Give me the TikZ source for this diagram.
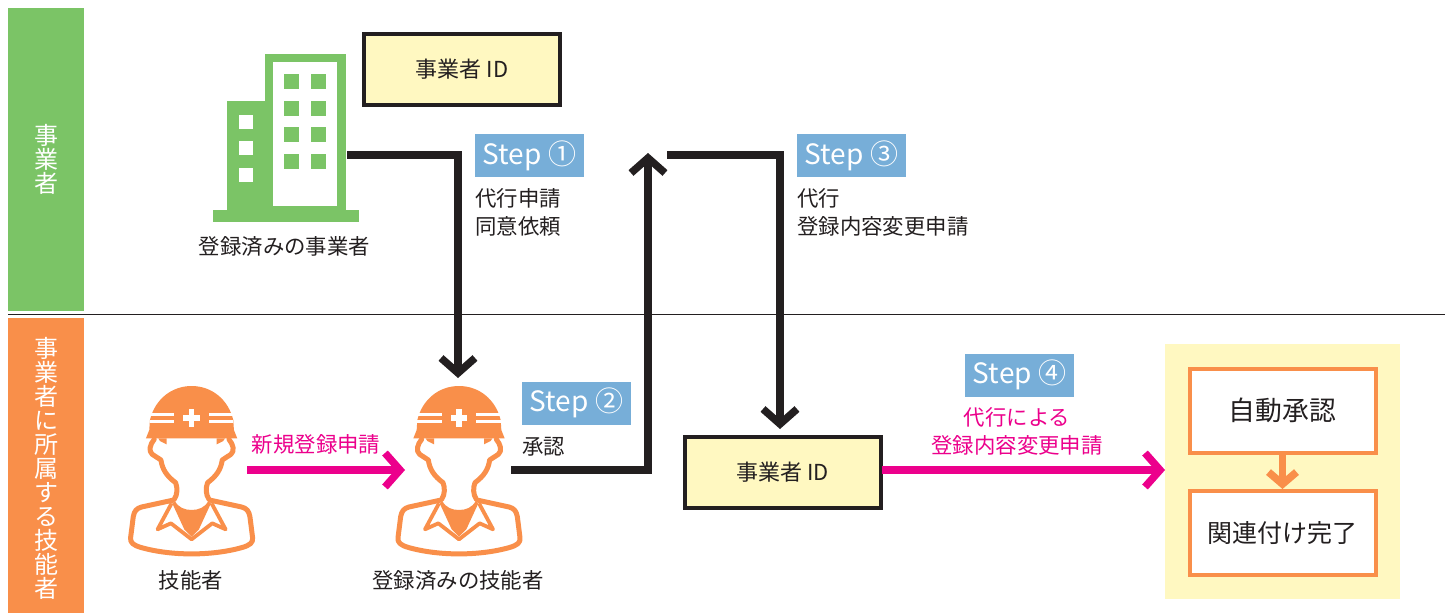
\documentclass[tikz,border=0pt]{standalone}
\usepackage{fontspec}
\setmainfont{Noto Sans CJK JP}
\usetikzlibrary{arrows.meta}
\definecolor{ink}{HTML}{231F20}
\definecolor{grn}{HTML}{7BC466}
\definecolor{org}{HTML}{F98F4A}
\definecolor{mag}{HTML}{EC008C}
\definecolor{blu}{HTML}{77AED8}
\definecolor{yel}{HTML}{FFF8C1}
\tikzset{
  x=1pt,y=-1pt,
  txt/.style={inner sep=0pt,text=ink,font=\fontsize{21.4}{28}\selectfont,align=left},
  ctxt/.style={txt,align=center},
  magtxt/.style={ctxt,text=mag},
  band/.style={inner sep=0pt,text=white,align=center,font=\fontsize{24}{24}\selectfont,minimum width=76pt},
  idbox/.style={draw=ink,line width=4pt,fill=yel,minimum width=196pt,minimum height=71pt,inner sep=0pt,text=ink,font=\fontsize{22}{24}\selectfont},
  stepbox/.style={fill=blu,text=white,minimum width=109pt,minimum height=43pt,inner sep=0pt,font=\fontsize{28}{30}\selectfont},
  resbox/.style={draw=org,line width=4pt,fill=white,minimum width=186pt,minimum height=84pt,inner sep=0pt,text=ink,font=\fontsize{26.8}{30}\selectfont},
  conn/.style={line width=7.5pt,draw=ink,miter limit=10},
  barb/.style={-{Straight Barb[length=15pt,width=34pt,line width=7.5pt]}},
  person/.pic={
    \begin{scope}[x=0.3333pt,y=-0.3333pt]
      % helmet
      \fill[org] (-137,157) -- (-127,132) -- (-125,102)
        .. controls (-110,40) and (-60,0) .. (0,0)
        .. controls (60,0) and (110,40) .. (125,102)
        -- (127,132) -- (137,157) -- cycle;
      \fill[white] (-125,82) rectangle (-52,90);
      \fill[white] (-125,103) rectangle (-52,111);
      \fill[white] (52,82) rectangle (125,90);
      \fill[white] (52,103) rectangle (125,111);
      \fill[white] (-8,70) rectangle (8,122);
      \fill[white] (-25,88) rectangle (25,104);
      % head and neck
      \draw[org,line width=5pt,line join=round,line cap=round]
        (-112,160) .. controls (-125,175) and (-130,195) .. (-118,205)
        .. controls (-110,212) and (-100,215) .. (-92,222)
        .. controls (-88,250) and (-75,270) .. (-48,290)
        .. controls (-42,305) and (-42,325) .. (-52,340);
      \draw[org,line width=5pt,line join=round,line cap=round]
        (112,160) .. controls (125,175) and (130,195) .. (118,205)
        .. controls (110,212) and (100,215) .. (92,222)
        .. controls (88,250) and (75,270) .. (48,290)
        .. controls (42,305) and (42,325) .. (52,340);
      \fill[org] (-75,157) -- (-75,175) -- (-95,165) -- (-100,157) -- cycle;
      \fill[org] (75,157) -- (75,175) -- (95,165) -- (100,157) -- cycle;
      % shoulders
      \draw[org,line width=5pt,line join=round,line cap=round]
        (-58,343) -- (-150,363)
        .. controls (-165,367) and (-172,375) .. (-175,392)
        -- (-183,455)
        .. controls (-185,470) and (-175,478) .. (-150,485)
        .. controls (-60,510) and (60,510) .. (150,485)
        .. controls (175,478) and (185,470) .. (183,455)
        -- (175,392)
        .. controls (172,375) and (165,367) .. (150,363)
        -- (58,343);
      % collar
      \draw[org,line width=3.8pt,line join=round]
        (-60,352) -- (-102,430) -- (-62,412) -- (0,460)
        -- (62,412) -- (102,430) -- (60,352);
      \fill[org] (-50,345) .. controls (-40,365) and (-20,372) .. (0,372)
        .. controls (20,372) and (40,365) .. (50,345)
        -- (58,352) -- (22,430) -- (0,452) -- (-22,430) -- (-58,352) -- cycle;
    \end{scope}
  }
}
\begin{document}
\begin{tikzpicture}
\useasboundingbox (0,0) rectangle (1451,613);
\fill[white] (0,0) rectangle (1451,613);
% side bands
\fill[grn] (8,8) rectangle (84,311);
\fill[org] (8,318) rectangle (84,613);
\draw[ink,line width=0.7pt] (8,314) -- (1445,314);
\node[band] (bandA) at (46,159) {事\\業\\者};
\node[band] (bandB) at (46,468) {事\\業\\者\\に\\所\\属\\す\\る\\技\\能\\者};
% building
\fill[grn] (213,210) rectangle (359,222);
\fill[grn] (227,101) rectangle (265,212);
\fill[grn] (265,54) rectangle (346,212);
\fill[white] (273,62) rectangle (337,206);
\foreach \yy in {74,101,127,154}{
  \fill[grn] (284,\yy) rectangle +(15,15);
  \fill[grn] (311,\yy) rectangle +(15,15);
}
\foreach \yy in {115,141,168}
  \fill[white] (239,\yy) rectangle +(14,13.5);
\node[ctxt] (lblOp) at (284.5,246) {登録済みの事業者};
% id boxes
\node[idbox] (idA) at (462,69.5) {事業者 ID};
\node[idbox] (idB) at (782.5,472) {事業者 ID};
% step labels
\node[stepbox] (s1) at (529.5,155.5) {\raisebox{-3pt}{Step ①}};
\node[stepbox] (s2) at (576.5,403) {\raisebox{-3pt}{Step ②}};
\node[stepbox] (s3) at (851.5,155.5) {\raisebox{-3pt}{Step ③}};
\node[stepbox] (s4) at (1019.5,375) {\raisebox{-3pt}{Step ④}};
\node[txt,anchor=north west] (t1) at (475,188) {代行申請\\同意依頼};
\node[txt,anchor=west] (t2) at (522,447) {承認};
\node[txt,anchor=north west] (t3) at (797,188) {代行\\登録内容変更申請};
\node[magtxt] (t4) at (1017,431) {代行による\\登録内容変更申請};
\node[magtxt] (t5) at (316,444) {新規登録申請};
% people
\pic at (191.6,386) {person};
\pic at (459,386) {person};
\node[ctxt] (lblA) at (191,580) {技能者};
\node[ctxt] (lblB) at (458,580) {登録済みの技能者};
\coordinate (pAr) at (247,470);
\coordinate (pBl) at (405,470);
\coordinate (pBt) at (458,378);
\coordinate (pBr) at (511,470);
\coordinate (bR) at (347,155);
\coordinate (up) at (648,153);
\coordinate (c3) at (667,155);
\coordinate (idBt) at (780,429);
\coordinate (idBe) at (882,470);
% result panel
\fill[yel] (1165,344) rectangle (1400,599);
\node[resbox] (r1) at (1282.5,410.5) {自動承認};
\node[resbox,font=\fontsize{25}{30}\selectfont] (r2) at (1282.5,533) {関連付け完了};
\coordinate (panelL) at (1165,470);
% connectors
\draw[conn,barb] (bR) -| (pBt);
\draw[conn,barb] (pBr) -| (up);
\draw[conn,barb] (c3) -| (idBt);
\draw[conn,draw=mag,barb] (pAr) -- (pBl);
\draw[conn,draw=mag,barb] (idBe) -- (panelL);
\draw[conn,draw=org,-{Straight Barb[length=12pt,width=28pt,line width=7.5pt]}] (r1.south) -- (r2.north);
\end{tikzpicture}
\end{document}
